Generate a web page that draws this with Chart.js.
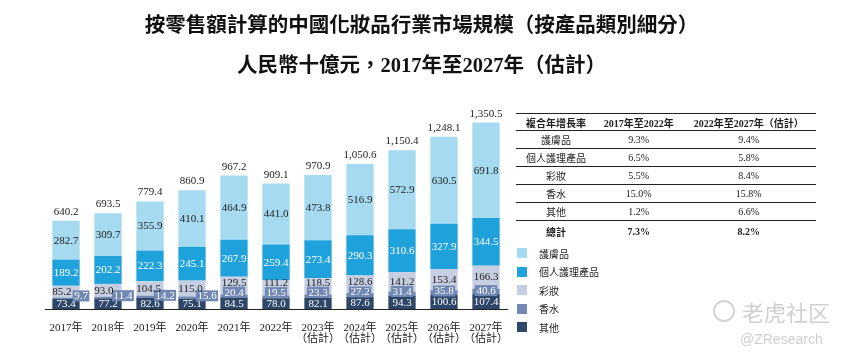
<!DOCTYPE html>
<html>
<head>
<meta charset="utf-8">
<script src="https://cdn.jsdelivr.net/npm/chart.js@4.4.1/dist/chart.umd.min.js"></script>
<style>
  body { margin: 0; background: #fff; }
  #wrap { position: relative; width: 843px; height: 361px; overflow: hidden; font-family: 'Liberation Serif', 'Noto Sans CJK TC', serif; color: #222; }
  #myChart { position: absolute; left: 0; top: 0; }
  .title { position: absolute; left: 0; width: 843px; text-align: center; font-family: 'Liberation Serif', 'Noto Sans CJK TC', serif; font-weight: bold; font-size: 20.5px; color: #111; }
  #cagr { position: absolute; left: 516px; top: 113px; width: 300px; border-collapse: collapse; font-size: 10px; }
  #cagr td, #cagr th { text-align: center; padding: 0; height: 17px; border-top: 1px solid #222; }
  #cagr th { font-weight: bold; height: 16px; border-top: 1.5px solid #222; }
  #cagr tr.total td { font-weight: bold; height: 21px; }
  #legend { position: absolute; left: 517px; top: 244px; font-size: 10px; }
  #legend div { height: 18.5px; display: flex; align-items: center; }
  #legend span.box { width: 10px; height: 10px; margin-right: 12px; display: inline-block; }
  .wm { position: absolute; color: #d0d0d0; font-family: 'Noto Sans CJK SC', sans-serif; }
  .ring { position: absolute; left: 713px; top: 300px; width: 18px; height: 18px; border: 2px solid #d4d4d4; border-radius: 50%; }
</style>
</head>
<body>
<div id="wrap">
  <canvas id="myChart" width="843" height="361"></canvas>
  <div class="title" style="top: 8px;">按零售額計算的中國化妝品行業市場規模（按產品類別細分）</div>
  <div class="title" style="top: 48px;">人民幣十億元，2017年至2027年（估計）</div>
  <table id="cagr"></table>
  <div id="legend"></div>
  <div class="ring"></div>
  <div class="wm" style="left: 742px; top: 295px; font-size: 22px;">老虎社区</div>
  <div class="wm" style="left: 740px; top: 331px; font-size: 14px; font-family: 'Liberation Sans', sans-serif;">@ZResearch</div>
</div>
<script>
  'use strict'

  // 年份
  const years = [
    ['2017年'], ['2018年'], ['2019年'], ['2020年'], ['2021年'], ['2022年'],
    ['2023年', '（估計）'], ['2024年', '（估計）'], ['2025年', '（估計）'],
    ['2026年', '（估計）'], ['2027年', '（估計）']
  ]

  // 人民幣十億元
  const skincare = [282.7, 309.7, 355.9, 410.1, 464.9, 441.0, 473.8, 516.9, 572.9, 630.5, 691.8]
  const personalCare = [189.2, 202.2, 222.3, 245.1, 267.9, 259.4, 273.4, 290.3, 310.6, 327.9, 344.5]
  const makeup = [85.2, 93.0, 104.5, 115.0, 129.5, 111.2, 118.5, 128.6, 141.2, 153.4, 166.3]
  const perfume = [9.7, 11.4, 14.2, 15.6, 20.4, 19.5, 23.3, 27.2, 31.4, 35.8, 40.6]
  const others = [73.4, 77.2, 82.6, 75.1, 84.5, 78.0, 82.1, 87.6, 94.3, 100.6, 107.4]
  const totals = ['640.2', '693.5', '779.4', '860.9', '967.2', '909.1', '970.9', '1,050.6', '1,150.4', '1,248.1', '1,350.5']

  // 複合年增長率
  const cagrHeader = ['複合年增長率', '2017年至2022年', '2022年至2027年（估計）']
  const cagrRows = ['護膚品', '個人護理產品', '彩妝', '香水', '其他', '總計']
  const cagrFirst = ['9.3%', '6.5%', '5.5%', '15.0%', '1.2%', '7.3%']
  const cagrSecond = ['9.4%', '5.8%', '8.4%', '15.8%', '6.6%', '8.2%']

  const colors = {
    skincare: '#a5daf1',
    personalCare: '#1fa2dc',
    makeup: '#c6cfe1',
    perfume: '#7187b4',
    others: '#2d4669'
  }

  // table
  let html = '<tr>' + cagrHeader.map(h => '<th>' + h + '</th>').join('') + '</tr>'
  cagrRows.forEach((r, i) => {
    html += '<tr' + (i === cagrRows.length - 1 ? ' class="total"' : '') + '><td>' + r + '</td><td>' + cagrFirst[i] + '</td><td>' + cagrSecond[i] + '</td></tr>'
  })
  document.getElementById('cagr').innerHTML = html
  document.querySelectorAll('#cagr tr').forEach(tr => {
    tr.children[0].style.width = '80px'
    tr.children[0].style.fontFamily = "'Noto Sans CJK TC', sans-serif"
  })

  const datasets = [
    { label: '其他', data: others, backgroundColor: colors.others, textColor: '#fff' },
    { label: '香水', data: perfume, backgroundColor: colors.perfume, textColor: '#fff' },
    { label: '彩妝', data: makeup, backgroundColor: colors.makeup, textColor: '#222' },
    { label: '個人護理產品', data: personalCare, backgroundColor: colors.personalCare, textColor: '#fff' },
    { label: '護膚品', data: skincare, backgroundColor: colors.skincare, textColor: '#222' }
  ]

  // legend (top item is 護膚品)
  document.getElementById('legend').innerHTML = datasets.slice().reverse().map(d =>
    '<div><span class="box" style="background:' + d.backgroundColor + '"></span><span style="font-family:\'Noto Sans CJK TC\',sans-serif">' + d.label + '</span></div>'
  ).join('')

  const labelFont = "11px 'Liberation Serif', serif"

  const barLabels = {
    id: 'barLabels',
    afterDatasetsDraw(chart) {
      const c = chart.ctx
      c.save()
      c.font = labelFont
      c.textAlign = 'center'
      c.textBaseline = 'middle'
      const n = chart.data.labels.length
      for (let i = 0; i < n; i++) {
        const ys = []
        chart.data.datasets.forEach((ds, di) => {
          const bar = chart.getDatasetMeta(di).data[i]
          let x = bar.x
          let y = (bar.y + bar.base) / 2
          const txt = ds.data[i].toFixed(1)
          if (di === 1) {
            const shifted = i < 4
            if (shifted) {
              x += 15
              y = Math.min(y, ys[0] - 8)
            } else {
              y = Math.min(y, ys[0] - 11)
            }
            const w = c.measureText(txt).width + 3
            c.fillStyle = ds.backgroundColor
            c.fillRect(x - w / 2, y - 5.5, w, 11)
          } else if (di === 2) {
            y = Math.min(y, ys[1] - (i < 4 ? 4 : 10))
          }
          ys.push(y)
          c.fillStyle = ds.textColor
          if (di === 2 && i < 4) {
            c.textAlign = 'left'
            c.fillText(txt, bar.x - bar.width / 2, y + 0.5)
            c.textAlign = 'center'
          } else {
            c.fillText(txt, x, y + 0.5)
          }
        })
        const top = chart.getDatasetMeta(4).data[i]
        c.fillStyle = '#222'
        c.textBaseline = 'alphabetic'
        c.fillText(totals[i], top.x, top.y - 6)
        c.textBaseline = 'middle'
      }
      c.restore()
    }
  }

  const ctx = document.getElementById('myChart')
  const myChart = new Chart(ctx, {
    type: 'bar',
    data: {
      labels: years,
      datasets: datasets.map(d => ({
        label: d.label,
        data: d.data,
        backgroundColor: d.backgroundColor,
        textColor: d.textColor,
        borderWidth: 0,
        categoryPercentage: 1,
        barPercentage: 0.65
      }))
    },
    options: {
      responsive: false,
      animation: false,
      devicePixelRatio: 1,
      layout: {
        padding: { left: 45, right: 336, top: 102, bottom: 0 }
      },
      plugins: {
        legend: { display: false },
        tooltip: { enabled: false }
      },
      scales: {
        x: {
          stacked: true,
          grid: { display: false },
          border: { display: true, color: '#222', width: 1 },
          ticks: {
            color: '#222',
            padding: 5,
            maxRotation: 0,
            autoSkip: false,
            font: { family: "'Liberation Serif', 'Noto Sans CJK TC', serif", size: 11, lineHeight: 1.05 }
          },
          afterFit: s => { s.height = 52 }
        },
        y: {
          stacked: true,
          display: false,
          min: 0,
          max: 1500
        }
      }
    },
    plugins: [barLabels]
  })
</script>
</body>
</html>
